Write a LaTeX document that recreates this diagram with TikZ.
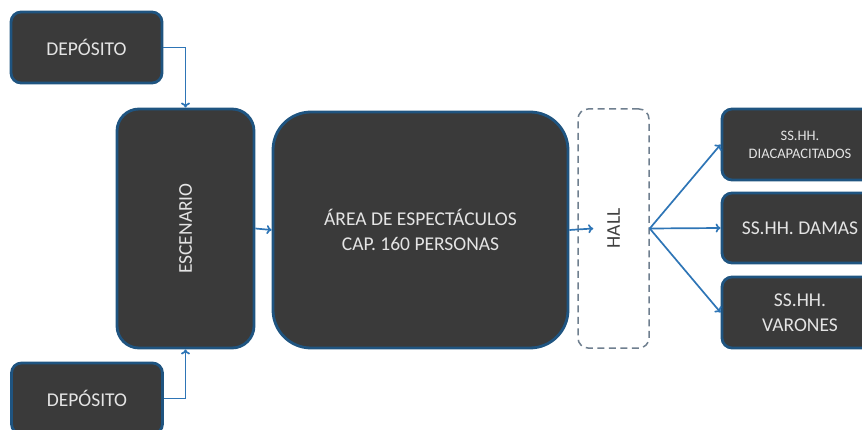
\documentclass[tikz,border=0pt]{standalone}
\usepackage{fontspec}
\setmainfont{Carlito}
\usetikzlibrary{arrows.meta}
\definecolor{boxfill}{HTML}{3A3A3A}
\definecolor{boxline}{HTML}{1F5480}
\definecolor{arrowc}{HTML}{2E75B6}
\definecolor{txt}{HTML}{E4E4E4}
\definecolor{hallline}{HTML}{6F7F8F}
\begin{document}
\begin{tikzpicture}[x=1pt,y=-1pt,
  darkbox/.style={draw=boxline, line width=2.8pt, fill=boxfill, text=txt,
    rounded corners=#1, inner sep=0pt, align=center, font=\fontsize{19.5}{25}\selectfont},
  darkbox/.default=10pt,
  hallbox/.style={draw=hallline, line width=1.5pt, dash pattern=on 7pt off 4.5pt, fill=white,
    rounded corners=10pt, text=black!75, font=\fontsize{19.5}{25}\selectfont},
  conn/.style={draw=arrowc, line width=1.7pt, -{To[length=5pt,width=9pt]}}
]
\useasboundingbox (0,0) rectangle (862,430);
\node[darkbox, minimum width=151pt, minimum height=71pt] (dep1) at (86.5,47.5) {DEPÓSITO};
\node[darkbox, minimum width=151pt, minimum height=71pt] (dep2) at (87,398.5) {DEPÓSITO};
\node[darkbox=22pt, minimum width=137pt, minimum height=239pt] (esc) at (185.5,228.5) {\rotatebox{90}{ESCENARIO}};
\node[darkbox=38pt, minimum width=295pt, minimum height=236pt] (area) at (420.5,230) {ÁREA DE ESPECTÁCULOS\\CAP. 160 PERSONAS};
\node[hallbox, minimum width=71pt, minimum height=239pt] (hall) at (613.5,228.5) {\rotatebox{90}{HALL}};
\node[darkbox, minimum width=156pt, minimum height=71pt, font=\fontsize{14.5}{18}\selectfont] (ss1) at (800,144.5) {SS.HH.\\DIACAPACITADOS};
\node[darkbox, minimum width=156pt, minimum height=70pt] (ss2) at (800,228) {SS.HH. DAMAS};
\node[darkbox, minimum width=156pt, minimum height=71pt] (ss3) at (800,312.5) {SS.HH.\\VARONES};
\draw[conn] (dep1.east) -| (esc.north);
\draw[conn] (dep2.east) -| (esc.south);
\draw[conn] (esc.east) -- (area.west);
\draw[conn] (area.east) -- ([xshift=16pt]hall.west);
\draw[conn] (hall.east) -- (ss1.west);
\draw[conn] (hall.east) -- (ss2.west);
\draw[conn] (hall.east) -- (ss3.west);
\end{tikzpicture}
\end{document}
